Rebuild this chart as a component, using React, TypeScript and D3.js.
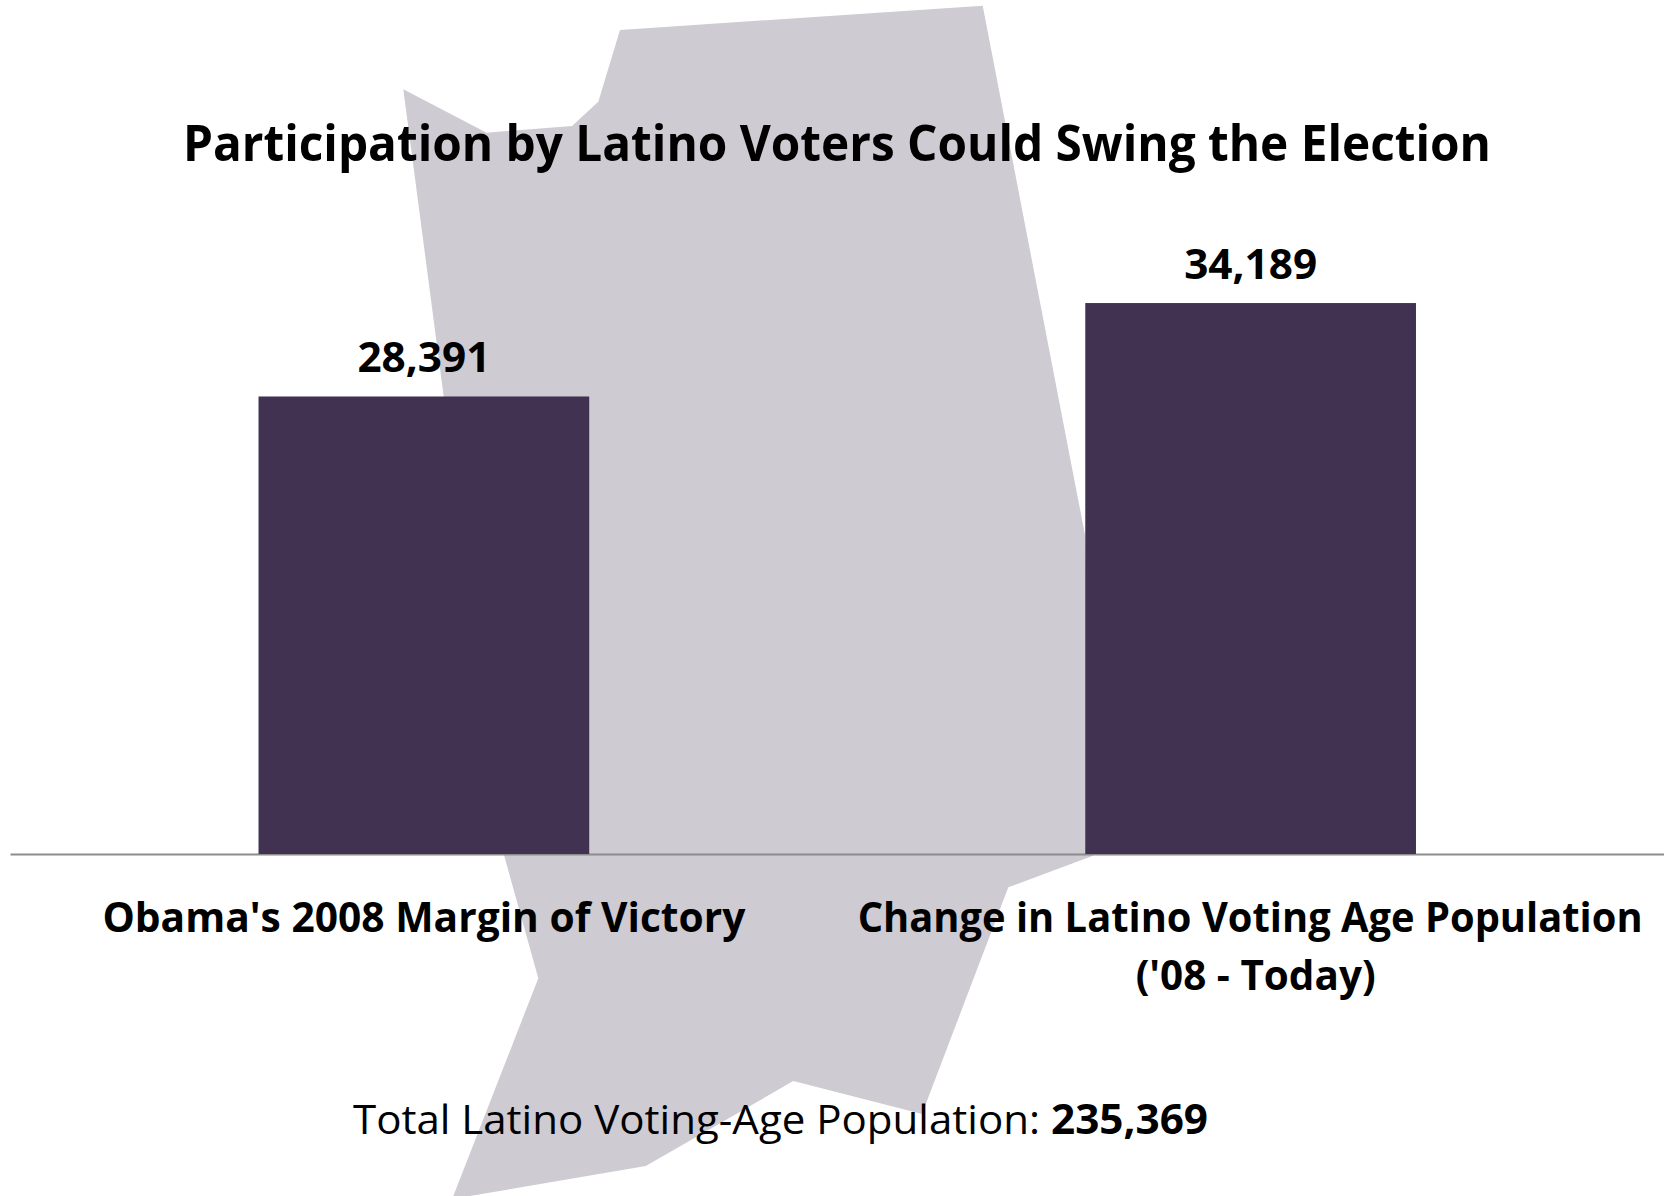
import React from "react";
import * as d3 from "d3";

const categories = ["Obama's 2008 Margin of Victory", "Change in Latino Voting Age Population"];
const categorySecondLines = ["", "('08 - Today)"];
const values = [28391, 34189];
const titleText = "Participation by Latino Voters Could Swing the Election";
const footerLabel = "Total Latino Voting-Age Population:";
const footerValue = 235369;
const stateOutline: [number, number][] = [
  [403.3, 89.3], [486.7, 132.7], [572, 126], [598.3, 101.7], [620, 30], [982.7, 5.7],
  [1085, 535], [1093, 855.7], [1008.3, 887.3], [922, 1114], [793.3, 1081], [645.8, 1166],
  [470, 1196], [453.3, 1196], [538.3, 978.3], [504, 855],
];
const categoryWidths = [643, 785];
const secondLineWidths = [0, 240];

const W = 1672, H = 1196;
const FONT = "'Open Sans', sans-serif";
const fit = { lengthAdjust: "spacingAndGlyphs" } as const;

export default function App() {
  const x = d3.scaleBand<string>().domain(categories).range([10.5, 1664]).paddingInner(0.6).paddingOuter(0.3);
  const y = d3.scaleLinear().domain([0, 40000]).range([854, 209.4]);
  const fmt = d3.format(",");
  const outline = d3.line()(stateOutline) + "Z";
  return (
    <svg width={W} height={H} viewBox={`0 0 ${W} ${H}`}
      style={{ position: "absolute", left: 0, top: 0, background: "#fff" }} fontFamily={FONT}>
      <path d={outline} fill="#cecbd3" />
      <text x={837} y={161} textAnchor="middle" fontSize={50} fontWeight={700} fill="#000" textLength={1308} {...fit}>{titleText}</text>
      <line x1={10.5} x2={1664} y1={854.4} y2={854.4} stroke="#8c8c8c" strokeWidth={2} />
      {categories.map((c, i) => {
        const cx = x(c)! + x.bandwidth() / 2;
        return (
          <g key={c}>
            <rect x={x(c)} y={y(values[i])} width={x.bandwidth()} height={y(0) - y(values[i])} fill="#413252" />
            <text x={cx} y={y(values[i]) - 24} textAnchor="middle" fontSize={42} fontWeight={700} fill="#000" textLength={133} {...fit}>{fmt(values[i])}</text>
            <text x={i === 0 ? cx : cx - 0.5} y={932} textAnchor="middle" fontSize={41} fontWeight={700} fill="#000" textLength={categoryWidths[i]} {...fit}>{c}</text>
            {categorySecondLines[i] && (
              <text x={cx + 5} y={990} textAnchor="middle" fontSize={41} fontWeight={700} fill="#000" textLength={secondLineWidths[i]} {...fit}>{categorySecondLines[i]}</text>
            )}
          </g>
        );
      })}
      <text x={353} y={1134} fontSize={41} fill="#000" textLength={687} {...fit}>{footerLabel}</text>
      <text x={1051} y={1134} fontSize={42} fontWeight={700} fill="#000" textLength={157} {...fit}>{fmt(footerValue)}</text>
    </svg>
  );
}
